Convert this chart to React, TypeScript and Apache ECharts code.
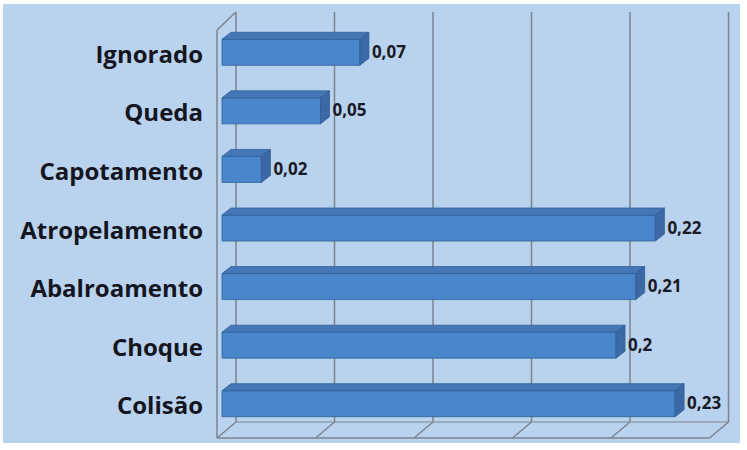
import React, { useEffect, useRef } from "react";
import * as echarts from "echarts";

const categories = ["Colisão", "Choque", "Abalroamento", "Atropelamento", "Capotamento", "Queda", "Ignorado"];
const values = [0.23, 0.2, 0.21, 0.22, 0.02, 0.05, 0.07];
const ticks = [0, 0.05, 0.1, 0.15, 0.2, 0.25];

const BACK_DX = 14;
const BACK_DY = -12;
const FRONT_DX = -5;
const FRONT_DY = 4;
const BAR_H = 26;
const TOP_DX = 9;
const TOP_DY = -7;
const LINE_COLOR = "#7d838e";

function fmt(v: number) {
  return String(v).replace(".", ",");
}

export default function App() {
  const ref = useRef<HTMLDivElement>(null);
  useEffect(() => {
    const chart = echarts.init(ref.current!, null, { renderer: "svg" });
    const option: any = {
      animation: false,
      backgroundColor: "#ffffff",
      graphic: [
        {
          type: "rect",
          z: -10,
          shape: { x: 3, y: 4, width: 737, height: 439 },
          style: { fill: "#b9d3ee" },
        },
      ],
      grid: { left: 222, top: 24, width: 492.5, height: 410 },
      xAxis: {
        type: "value",
        min: 0,
        max: 0.25,
        interval: 0.05,
        show: false,
      },
      yAxis: {
        type: "category",
        data: categories,
        axisLine: { show: false },
        axisTick: { show: false },
        splitLine: { show: false },
        axisLabel: {
          margin: 19,
          fontFamily: "Open Sans",
          fontWeight: "bold",
          fontSize: 24,
          color: "#15151f",
        },
      },
      series: [
        {
          type: "custom",
          z: 1,
          data: ticks.map((t) => [t]),
          encode: { x: 0 },
          renderItem: (params: any, api: any) => {
            const v = api.value(0);
            const cs = params.coordSys;
            const top = cs.y;
            const bottom = cs.y + cs.height;
            const x = api.coord([v, 0])[0];
            const style = { stroke: LINE_COLOR, lineWidth: 1.5, fill: "none" };
            const children: any[] = [
              {
                type: "line",
                shape: { x1: x + BACK_DX, y1: top + BACK_DY, x2: x + BACK_DX, y2: bottom + BACK_DY },
                style,
              },
              {
                type: "line",
                shape: { x1: x + BACK_DX, y1: bottom + BACK_DY, x2: x + FRONT_DX, y2: bottom + FRONT_DY },
                style,
              },
            ];
            if (params.dataIndex === 0) {
              const xEnd = api.coord([ticks[ticks.length - 1], 0])[0];
              children.push(
                {
                  type: "line",
                  shape: { x1: x + FRONT_DX, y1: top + FRONT_DY + 2, x2: x + FRONT_DX, y2: bottom + FRONT_DY },
                  style,
                },
                {
                  type: "line",
                  shape: { x1: x + FRONT_DX, y1: top + FRONT_DY + 2, x2: x + BACK_DX, y2: top + BACK_DY },
                  style,
                },
                {
                  type: "line",
                  shape: { x1: x + FRONT_DX, y1: bottom + FRONT_DY, x2: xEnd + FRONT_DX, y2: bottom + FRONT_DY },
                  style,
                },
                {
                  type: "line",
                  shape: { x1: x + BACK_DX, y1: bottom + BACK_DY, x2: xEnd + BACK_DX, y2: bottom + BACK_DY },
                  style: { ...style, lineWidth: 1 },
                }
              );
            }
            return { type: "group", children };
          },
        },
        {
          type: "custom",
          z: 2,
          data: values.map((v, i) => [v, i]),
          encode: { x: 0, y: 1 },
          renderItem: (params: any, api: any) => {
            const v = api.value(0);
            const c = api.value(1);
            const p1 = api.coord([v, c]);
            const p0 = api.coord([0, c]);
            const x0 = p0[0];
            const x1 = p1[0];
            const yc = p1[1] - 1;
            const yt = yc - BAR_H / 2;
            const yb = yc + BAR_H / 2;
            const border = "#2f5f98";
            return {
              type: "group",
              children: [
                {
                  type: "rect",
                  shape: { x: x0, y: yt, width: x1 - x0, height: BAR_H },
                  style: { fill: "#4a86cb", stroke: border, lineWidth: 0.8 },
                },
                {
                  type: "polygon",
                  shape: {
                    points: [
                      [x0, yt],
                      [x0 + TOP_DX, yt + TOP_DY],
                      [x1 + TOP_DX, yt + TOP_DY],
                      [x1, yt],
                    ],
                  },
                  style: { fill: "#4577b6", stroke: border, lineWidth: 0.8 },
                },
                {
                  type: "polygon",
                  shape: {
                    points: [
                      [x1, yt],
                      [x1 + TOP_DX, yt + TOP_DY],
                      [x1 + TOP_DX, yb + TOP_DY],
                      [x1, yb],
                    ],
                  },
                  style: { fill: "#3c69a5", stroke: border, lineWidth: 0.8 },
                },
                {
                  type: "text",
                  style: {
                    x: x1 + TOP_DX + 3,
                    y: yc - 1,
                    text: fmt(v),
                    fontFamily: "Open Sans",
                    fontWeight: "bold",
                    fontSize: 17,
                    fill: "#1a1a26",
                    align: "left",
                    verticalAlign: "middle",
                  },
                },
              ],
            };
          },
        },
      ],
    };
    chart.setOption(option);
    return () => chart.dispose();
  }, []);
  return (
    <div
      ref={ref}
      style={{ position: "fixed", left: 0, top: 0, width: 747, height: 450 }}
    />
  );
}
